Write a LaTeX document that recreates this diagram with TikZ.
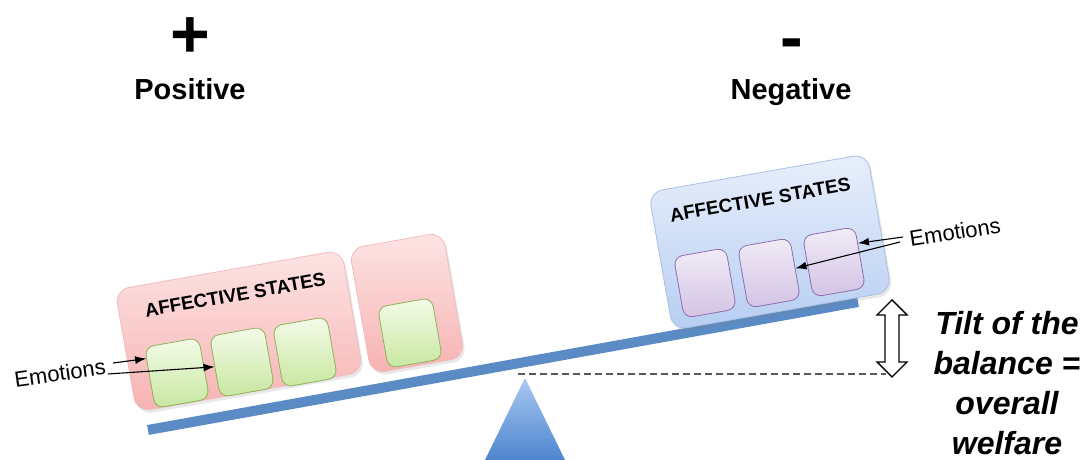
\documentclass[tikz,border=0pt]{standalone}
\usepackage{fontspec}
\setmainfont{Liberation Sans}
\usetikzlibrary{calc,arrows.meta,shadows}
\definecolor{beamblue}{HTML}{5A8BC5}
\definecolor{redtop}{HTML}{FDE4E4}
\definecolor{redbot}{HTML}{F7B2B2}
\definecolor{redline}{HTML}{F0BDBD}
\definecolor{greentop}{HTML}{F4FBE9}
\definecolor{greenbot}{HTML}{C8E7A0}
\definecolor{greenline}{HTML}{8DB35A}
\definecolor{bluetop}{HTML}{E8EFFB}
\definecolor{bluebot}{HTML}{B7CEF2}
\definecolor{blueline}{HTML}{A9C0E6}
\definecolor{purptop}{HTML}{F1ECF6}
\definecolor{purpbot}{HTML}{D3C3E5}
\definecolor{purpline}{HTML}{8E6FB0}
\definecolor{tritop}{HTML}{A9C9F1}
\definecolor{tribot}{HTML}{4D85CF}
\begin{document}
\begin{tikzpicture}[x=1pt,y=1pt,
  softshadow/.style={drop shadow={opacity=0.18, shadow xshift=2pt, shadow yshift=-3pt}},
  redbox/.style={draw=redline, line width=0.8pt, rounded corners=14pt, top color=redtop, bottom color=redbot, rotate=10, inner sep=0pt, softshadow},
  bluebox/.style={draw=blueline, line width=0.8pt, rounded corners=14pt, top color=bluetop, bottom color=bluebot, rotate=10, inner sep=0pt, softshadow},
  greensq/.style={draw=greenline, line width=0.8pt, rounded corners=9pt, top color=greentop, bottom color=greenbot, rotate=10, minimum width=55pt, minimum height=62pt, inner sep=0pt},
  purpsq/.style={draw=purpline, line width=0.8pt, rounded corners=9pt, top color=purptop, bottom color=purpbot, rotate=10, minimum width=53pt, minimum height=62pt, inner sep=0pt},
  boxtitle/.style={rotate=10, font=\bfseries\fontsize{19}{22}\selectfont, inner sep=0pt},
  emo/.style={font=\fontsize{22}{26}\selectfont, inner sep=0pt},
  pointer/.style={-{Latex[length=11pt,width=8pt]}, line width=1.1pt, black},
  heading/.style={font=\bfseries\fontsize{29}{34}\selectfont, inner sep=0pt, anchor=base},
  sign/.style={font=\bfseries\fontsize{68}{70}\selectfont, inner sep=0pt},
  beam/.style={line width=10pt, draw=beamblue},
  tiltarrow/.style={draw=black, line width=1.4pt, fill=white, line join=miter}
]
\useasboundingbox (0,0) rectangle (1088,460);

% headings
\node[sign] (plus) at (190,422) {+};
\node[sign] (minus) at (792,410) {-};
\node[heading] (pos) at (190,360) {Positive};
\node[heading] (neg) at (791,360) {Negative};

% fulcrum
\coordinate (apex) at (525,82);
\shade[top color=tritop, bottom color=tribot] (apex) -- (565,0) -- (485,0) -- cycle;

% dashed reference line
\coordinate (abot) at (892,83);
\coordinate (atop) at (892,160);
\coordinate (dstart) at (518,86);
\coordinate (dend) at (886,86);
\draw[gray!70!black, dash pattern=on 7pt off 4pt, line width=1.5pt] (dstart) -- (dend);

% beam
\coordinate (bl) at (148,30);
\coordinate (br) at (858,158);
\draw[beam] (bl) -- (br);

% left affective states
\node[redbox, minimum width=230pt, minimum height=124pt] (rbig) at (239,129) {};
\node[redbox, minimum width=95pt, minimum height=127pt] (rsmall) at (407,157) {};
\node[boxtitle] (ltitle) at (235,165) {AFFECTIVE STATES};
\node[greensq] (e1) at (177,87) {};
\node[greensq] (e2) at (242,98) {};
\node[greensq] (e3) at (305,108) {};
\node[greensq] (e4) at (410,127) {};

% right affective states
\node[bluebox, minimum width=222pt, minimum height=140pt] (bbox) at (770,218) {};
\node[boxtitle] (rtitle) at (760,260) {AFFECTIVE STATES};
\node[purpsq] (p1) at (705,177) {};
\node[purpsq] (p2) at (769,187) {};
\node[purpsq] (p3) at (834,198) {};

% emotions labels
\node[emo, rotate=8] (eml) at (60,87) {Emotions};
\coordinate (la) at (113,97);
\coordinate (lb) at (108,86);
\draw[pointer] (la) -- (e1.145);
\draw[pointer] (lb) -- (e2.west);

\node[emo, rotate=9] (emr) at (955,228) {Emotions};
\coordinate (ra) at (903,223);
\coordinate (rb) at (900,218);
\draw[pointer] (ra) -- (p3.28);
\draw[pointer] (rb) -- (p2.east);

% tilt double arrow
\draw[tiltarrow] (atop) -- ++(15,-15) -- ++(-8,0) -- ++(0,-47) -- ++(8,0) -- (abot) -- ++(-15,15) -- ++(8,0) -- ++(0,47) -- ++(-8,0) -- cycle;

% tilt text
\node[align=center, font=\bfseries\itshape\fontsize{32}{40}\selectfont, inner sep=0pt] (tilt) at (1007,77) {Tilt of the\\balance =\\overall\\welfare};
\end{tikzpicture}
\end{document}
